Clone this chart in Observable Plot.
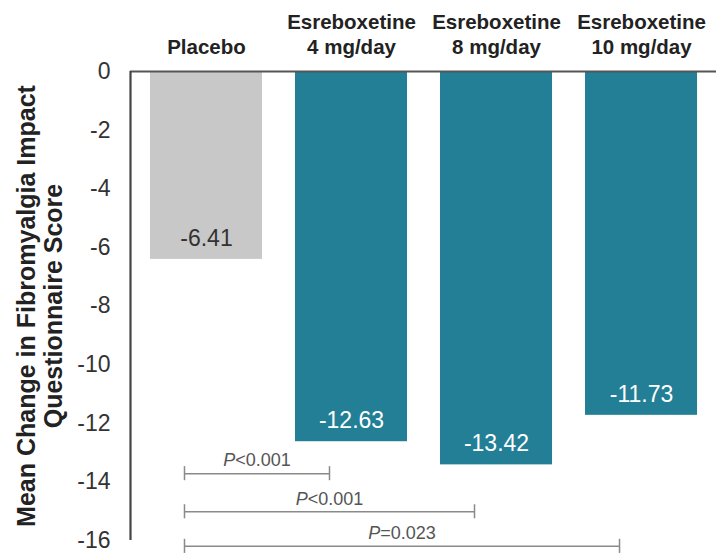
<!DOCTYPE html>
<html>
<head>
<meta charset="utf-8">
<script src="https://cdn.jsdelivr.net/npm/d3@7"></script>
<script src="https://cdn.jsdelivr.net/npm/@observablehq/plot@0.6"></script>
<style>
  html, body { margin: 0; padding: 0; background: #fff; }
  svg { font-family: "Liberation Sans", Arial, sans-serif; }
</style>
</head>
<body>
<div id="chart"></div>
<script>
// ---- data ----
const categories = ["Placebo", "Esreboxetine\n4 mg/day", "Esreboxetine\n8 mg/day", "Esreboxetine\n10 mg/day"];
const values = [-6.41, -12.63, -13.42, -11.73];
const groups = ["placebo", "drug", "drug", "drug"];
const yTicks = [0, -2, -4, -6, -8, -10, -12, -14, -16];
const yLabel = "Mean Change in Fibromyalgia Impact\nQuestionnaire Score";
// comparisons vs placebo (index of treatment), p-value labels, bracket level (score units)
const compareTo = [1, 2, 3];
const pLabels = ["P<0.001", "P<0.001", "P=0.023"];
const bracketLevels = [-13.72, -15.02, -16.2];

const bars = categories.map((c, i) => ({i, cat: c, value: values[i], group: groups[i]}));
const brackets = compareTo.map((j, k) => ({from: 0, to: j, p: pLabels[k], level: bracketLevels[k]}));

const xDomain = [-0.524, 3.517];
const yDomain = [-16, 0];
const teal = "#237f96";
const gray = "#c8c8c8";

const plot = Plot.plot({
  width: 725,
  height: 555,
  marginLeft: 130,
  marginRight: 9,
  marginTop: 71,
  marginBottom: 15,
  style: {fontFamily: "'Liberation Sans', Arial, sans-serif", background: "#fff"},
  x: {type: "linear", domain: xDomain, axis: null},
  y: {domain: yDomain, axis: null},
  marks: [
    Plot.rectY(bars, {
      x1: d => d.i - 0.5, x2: d => d.i + 0.5, y1: 0, y2: "value",
      insetLeft: 16.5, insetRight: 16.5,
      fill: d => d.group === "placebo" ? gray : teal
    }),
    Plot.ruleY([0], {x1: xDomain[0], x2: xDomain[1], stroke: "#555", strokeWidth: 2.2}),
    Plot.ruleX([xDomain[0]], {y1: yDomain[0], y2: 0, stroke: "#444", strokeWidth: 2.2}),
    Plot.axisY({
      ticks: yTicks, tickSize: 0, tickPadding: 20, fontSize: 23,
      tickFormat: d => String(d), fill: "#333", anchor: "left"
    }),
    Plot.axisX({
      anchor: "top", ticks: [0, 1, 2, 3], tickFormat: i => categories[i],
      tickSize: 0, tickPadding: 18, fontSize: 20.5, fontWeight: "bold",
      lineHeight: 1.22, fill: "#222"
    }),
    Plot.text(bars, {
      x: "i", y: "value", text: d => d.value.toFixed(2), dy: -21,
      fontSize: 23, fill: d => d.group === "placebo" ? "#333" : "#fff"
    }),
    Plot.text([yLabel], {
      frameAnchor: "left", textAnchor: "middle", rotate: -90, dx: -91, fontSize: 25,
      fontWeight: "bold", lineHeight: 1.08, fill: "#222"
    }),
    // significance brackets
    Plot.link(brackets, {
      x1: "from", x2: "to", y1: "level", y2: "level", dx: -22,
      stroke: "#8a8a8a", strokeWidth: 1.5
    }),
    Plot.ruleX(brackets, {
      x: "from", y1: d => d.level + 0.24, y2: d => d.level - 0.24, dx: -22,
      stroke: "#8a8a8a", strokeWidth: 1.5
    }),
    Plot.ruleX(brackets, {
      x: "to", y1: d => d.level + 0.24, y2: d => d.level - 0.24, dx: -22,
      stroke: "#8a8a8a", strokeWidth: 1.5
    }),
    Plot.text(brackets, {
      x: d => (d.from + d.to) / 2, y: "level", text: "p", dx: -22, dy: -13,
      fontSize: 18, fill: "#555"
    })
  ]
});

// italicise the leading "P" of p-value labels
plot.querySelectorAll("text").forEach(t => {
  const s = t.textContent;
  if (/^P[<=]/.test(s) && t.children.length === 0) {
    t.textContent = "";
    const ns = "http://www.w3.org/2000/svg";
    const a = document.createElementNS(ns, "tspan");
    a.setAttribute("font-style", "italic");
    a.textContent = "P";
    const b = document.createElementNS(ns, "tspan");
    b.textContent = s.slice(1);
    t.appendChild(a); t.appendChild(b);
  }
});

document.getElementById("chart").appendChild(plot);
</script>
</body>
</html>
